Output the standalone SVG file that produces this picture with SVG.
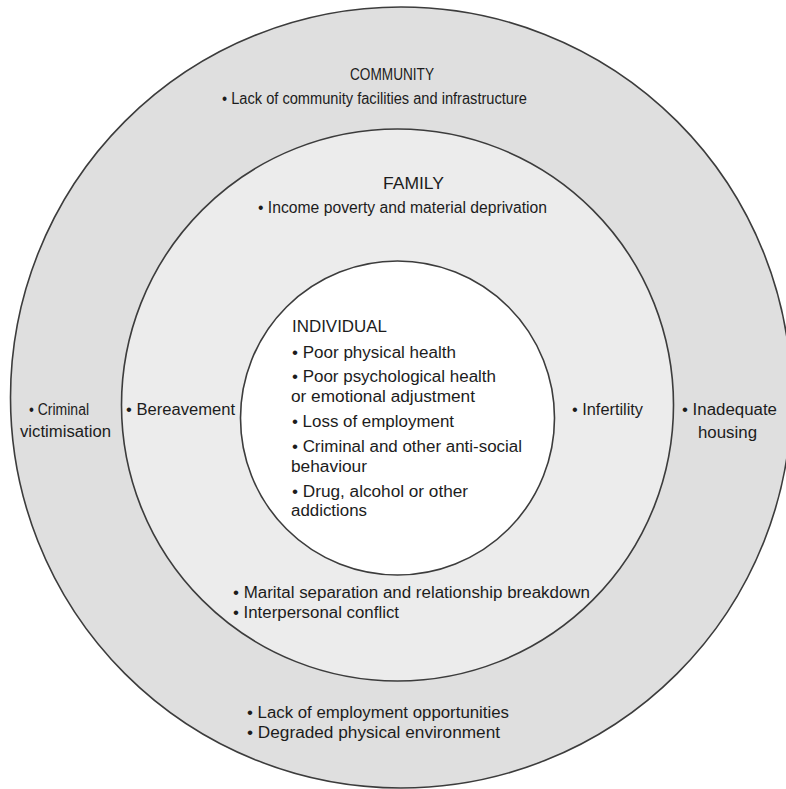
<svg xmlns="http://www.w3.org/2000/svg" width="786" height="789" viewBox="0 0 786 789">
<style>
.ring{stroke:#3c3c3c;stroke-width:1.6}
.t{font-family:"Liberation Sans",Arial,sans-serif;font-size:16px;fill:#1c1c1c}
</style>
<rect x="0" y="0" width="786" height="789" fill="#ffffff"/>
<g id="community">
<circle class="ring" cx="401" cy="397.5" r="390.5" fill="#dfdfdf"/>
<text class="t" x="350" y="80" textLength="84" lengthAdjust="spacingAndGlyphs">COMMUNITY</text>
<text class="t" x="222" y="104" textLength="305" lengthAdjust="spacingAndGlyphs">• Lack of community facilities and infrastructure</text>
<text class="t" x="29" y="415" textLength="60" lengthAdjust="spacingAndGlyphs">• Criminal</text>
<text class="t" x="20" y="437" textLength="91" lengthAdjust="spacingAndGlyphs">victimisation</text>
<text class="t" x="682" y="415" textLength="95" lengthAdjust="spacingAndGlyphs">• Inadequate</text>
<text class="t" x="698" y="438" textLength="59" lengthAdjust="spacingAndGlyphs">housing</text>
<text class="t" x="247" y="718" textLength="262" lengthAdjust="spacingAndGlyphs">• Lack of employment opportunities</text>
<text class="t" x="247" y="738" textLength="253" lengthAdjust="spacingAndGlyphs">•  Degraded physical environment</text>
</g>
<g id="family">
<circle class="ring" cx="397.5" cy="405" r="276" fill="#ececec"/>
<text class="t" x="383" y="189" textLength="61" lengthAdjust="spacingAndGlyphs">FAMILY</text>
<text class="t" x="258" y="213" textLength="289" lengthAdjust="spacingAndGlyphs">• Income poverty and material deprivation</text>
<text class="t" x="126" y="415" textLength="109" lengthAdjust="spacingAndGlyphs">• Bereavement</text>
<text class="t" x="572" y="415" textLength="71" lengthAdjust="spacingAndGlyphs">• Infertility</text>
<text class="t" x="233" y="598" textLength="357" lengthAdjust="spacingAndGlyphs">• Marital separation and relationship breakdown</text>
<text class="t" x="233" y="618" textLength="166" lengthAdjust="spacingAndGlyphs">• Interpersonal conflict</text>
</g>
<g id="individual">
<circle class="ring" cx="397.5" cy="418" r="157" fill="#ffffff"/>
<text class="t" x="292" y="332" textLength="95" lengthAdjust="spacingAndGlyphs">INDIVIDUAL</text>
<text class="t" x="292" y="358" textLength="164" lengthAdjust="spacingAndGlyphs">• Poor physical health</text>
<text class="t" x="292" y="382" textLength="204" lengthAdjust="spacingAndGlyphs">• Poor psychological health</text>
<text class="t" x="291" y="402" textLength="184" lengthAdjust="spacingAndGlyphs">or emotional adjustment</text>
<text class="t" x="292" y="427" textLength="162" lengthAdjust="spacingAndGlyphs">• Loss of employment</text>
<text class="t" x="292" y="452" textLength="230" lengthAdjust="spacingAndGlyphs">• Criminal and other anti-social</text>
<text class="t" x="291" y="472" textLength="76" lengthAdjust="spacingAndGlyphs">behaviour</text>
<text class="t" x="292" y="497" textLength="176" lengthAdjust="spacingAndGlyphs">• Drug, alcohol or other</text>
<text class="t" x="291" y="516" textLength="76" lengthAdjust="spacingAndGlyphs">addictions</text>
</g>
<g id="connectors"/>
</svg>
